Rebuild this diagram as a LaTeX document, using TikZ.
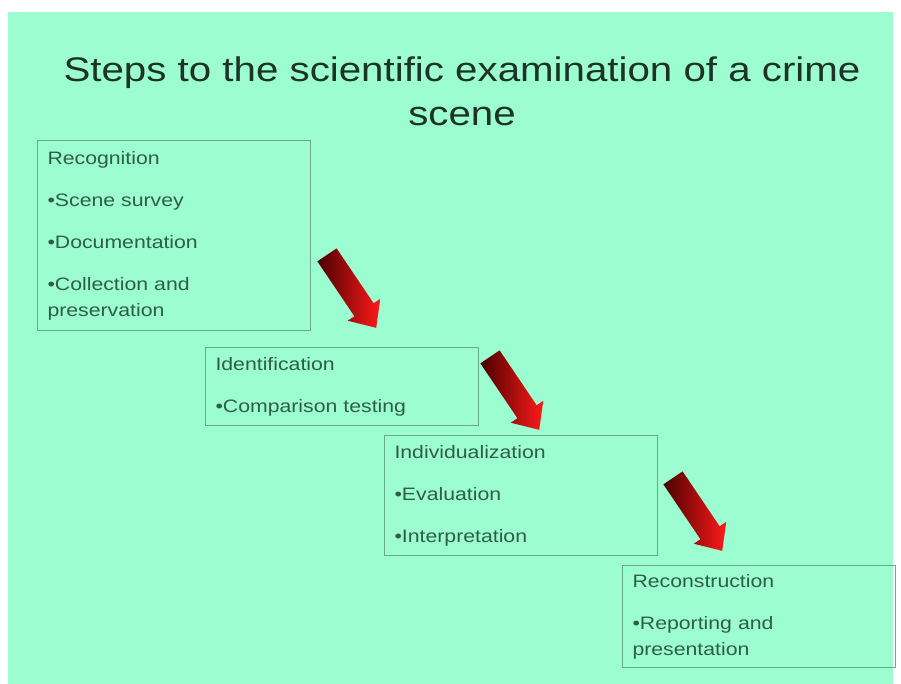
\documentclass[tikz,border=0pt]{standalone}
\usepackage{fontspec}
\setmainfont{Liberation Sans}[FakeStretch=1.18]
\usepackage{xcolor}
\usepackage{tikz}
\usetikzlibrary{shapes.arrows,positioning}

\definecolor{slidebg}{HTML}{9BFDD0}
\definecolor{titletext}{HTML}{1C3326}
\definecolor{boxtext}{HTML}{2E5E48}
\definecolor{boxline}{HTML}{6BA88B}
\definecolor{arrdark}{HTML}{4A0000}
\definecolor{arrred}{HTML}{FF1A1A}

\begin{document}
\begin{tikzpicture}[
    x=0.75pt, y=-0.75pt,
    stepbox/.style={rectangle, draw=boxline, line width=0.8pt, anchor=north west,
        text width=190pt, inner xsep=7.5pt, align=left, text=boxtext,
        font=\fontsize{13.5}{19.5}\selectfont},
    redarrow/.style={single arrow, minimum height=66pt, inner xsep=0pt, inner ysep=8.5pt,
        single arrow head extend=6pt, single arrow tip angle=84,
        left color=arrdark, right color=arrred, rotate=-56}
]
    \useasboundingbox (0,0) rectangle (901,684);
    \fill[slidebg] (8,12) rectangle (893,684);

    % Title
    \node[anchor=north, align=center, text=titletext, inner sep=0pt,
        font=\fontsize{25.6}{33}\selectfont] (title) at (462,57)
        {Steps to the scientific examination of a crime\\scene};

    % Steps
    \node[stepbox, minimum height=142.5pt] (recog) at (37,140)
        {Recognition\\[12pt]•Scene survey\\[12pt]•Documentation\\[12pt]•Collection and\\preservation};
    \node[stepbox, minimum height=58.5pt] (ident) at (205,347)
        {Identification\\[12pt]•Comparison testing};
    \node[stepbox, minimum height=90pt] (indiv) at (384,435)
        {Individualization\\[12pt]•Evaluation\\[12pt]•Interpretation};
    \node[stepbox, minimum height=76.5pt] (recon) at (622,565)
        {Reconstruction\\[12pt]•Reporting and\\presentation};

    % Arrows
    \node[redarrow] (arr1) at (348,286) {};
    \node[redarrow] (arr2) at (511,388) {};
    \node[redarrow] (arr3) at (694,509) {};
\end{tikzpicture}
\end{document}
